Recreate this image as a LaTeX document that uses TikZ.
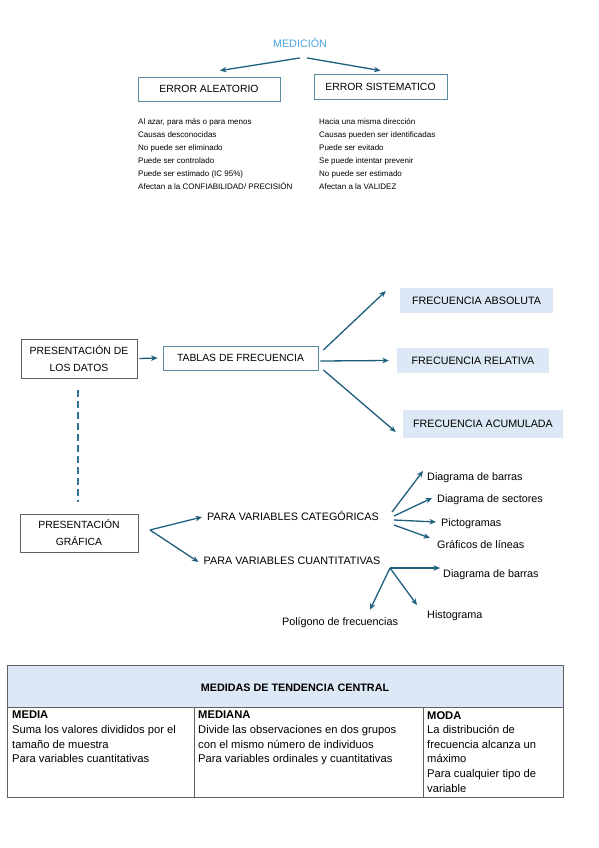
\documentclass[tikz,border=0pt]{standalone}
\usepackage{fontspec}
\setmainfont{Liberation Sans}
\usetikzlibrary{arrows.meta}

\definecolor{medblue}{HTML}{4AA3DF}
\definecolor{arrowblue}{HTML}{1D5E7E}
\definecolor{boxteal}{HTML}{5B8BA3}
\definecolor{dashblue}{HTML}{2F7299}
\definecolor{fillblue}{HTML}{DCE8F5}
\definecolor{boxgray}{HTML}{606060}

\tikzset{
  arr/.style={-{Stealth[length=6.5pt,width=5.5pt]}, arrowblue, line width=1.3pt},
  tealbox/.style={draw=boxteal, line width=0.8pt, inner sep=0pt, font=\fontsize{10.4}{12}\selectfont},
  graybox/.style={draw=boxgray, line width=0.8pt, inner sep=0pt, align=center, font=\fontsize{10.4}{17}\selectfont},
  frecbox/.style={fill=fillblue, inner sep=0pt, font=\fontsize{10.7}{12}\selectfont},
  lbl/.style={inner sep=0pt, font=\fontsize{10.8}{12}\selectfont},
  lista/.style={inner sep=0pt, anchor=north west, align=left, font=\fontsize{8}{12.9}\selectfont},
  celda/.style={inner sep=0pt, anchor=north west, align=left, font=\fontsize{11.2}{14.6}\selectfont}
}

\begin{document}
\begin{tikzpicture}[x=1pt, y=-1pt]
    \useasboundingbox (0,0) rectangle (599,848);

    % medicion
    \node[lbl, text=medblue] (medicion) at (300,43) {MEDICIÓN};
    \node[tealbox, minimum width=142pt, minimum height=24pt] (aleatorio) at (209,89) {ERROR ALEATORIO};
    \node[tealbox, minimum width=133pt, minimum height=25pt] (sistematico) at (380.5,86.5) {ERROR SISTEMATICO};

    \draw[arr] ([xshift=0pt,yshift=-10pt]medicion.south) -- ([xshift=11pt,yshift=6pt]aleatorio.north);
    \draw[arr] ([xshift=7pt,yshift=-10pt]medicion.south) -- ([xshift=0pt,yshift=3pt]sistematico.north);

    \node[lista] (listaleat) at (138,118.5) {Al azar, para más o para menos\\
        Causas desconocidas\\
        No puede ser eliminado\\
        Puede ser controlado\\
        Puede ser estimado (IC 95\%)\\
        Afectan a la CONFIABILIDAD/ PRECISIÓN};
    \node[lista] (listasist) at (319,118.5) {Hacia una misma dirección\\
        Causas pueden ser identificadas\\
        Puede ser evitado\\
        Se puede intentar prevenir\\
        No puede ser estimado\\
        Afectan a la VALIDEZ};

    % tablas de frecuencia
    \node[graybox, minimum width=116pt, minimum height=39pt] (datos) at (79,358.5) {PRESENTACIÓN DE\\LOS DATOS};
    \node[tealbox, minimum width=155pt, minimum height=24pt] (tablas) at (240.5,358) {TABLAS DE FRECUENCIA};
    \node[frecbox, minimum width=153pt, minimum height=25pt] (absoluta) at (476.5,300.5) {FRECUENCIA ABSOLUTA};
    \node[frecbox, minimum width=152pt, minimum height=25pt] (relativa) at (473,360.5) {FRECUENCIA RELATIVA};
    \node[frecbox, minimum width=160pt, minimum height=28pt] (acumulada) at (483,424) {FRECUENCIA ACUMULADA};

    \draw[arr] ([xshift=2pt]datos.east) -- ([xshift=-5pt]tablas.west);
    \draw[arr] ([xshift=5pt,yshift=8pt]tablas.east) -- ([xshift=-14pt,yshift=9.5pt]absoluta.west);
    \draw[arr] ([xshift=2pt,yshift=-3pt]tablas.east) -- ([xshift=-8pt]relativa.west);
    \draw[arr] ([xshift=5pt,yshift=-12pt]tablas.east) -- ([xshift=-7pt,yshift=-8pt]acumulada.west);

    % presentacion grafica
    \node[graybox, minimum width=118pt, minimum height=38pt] (grafica) at (79,533) {PRESENTACIÓN\\GRÁFICA};
    \draw[dashblue, line width=2pt, dash pattern=on 7pt off 4pt] ([xshift=-1pt,yshift=-12pt]datos.south) -- ([xshift=-1pt,yshift=12pt]grafica.north);

    \coordinate (hubgraf) at (150,530);
    \node[lbl] (categ) at (293,516) {PARA VARIABLES CATEGÓRICAS};
    \node[lbl] (cuant) at (292,561) {PARA VARIABLES CUANTITATIVAS};
    \draw[arr] (hubgraf) -- ([xshift=-5pt,yshift=-1pt]categ.west);
    \draw[arr] (hubgraf) -- ([xshift=-5pt,yshift=-1pt]cuant.west);

    \node[lbl, anchor=west] (barrascat) at (427,477.5) {Diagrama de barras};
    \node[lbl, anchor=west] (sectores) at (437,499.5) {Diagrama de sectores};
    \node[lbl, anchor=west] (picto) at (441,523.5) {Pictogramas};
    \node[lbl, anchor=west] (lineas) at (437,544.5) {Gráficos de líneas};
    \draw[arr] (392,512) -- ([xshift=-4pt,yshift=6.5pt]barrascat.west);
    \draw[arr] (394,516) -- ([xshift=-5pt,yshift=1.5pt]sectores.west);
    \draw[arr] (394,520) -- ([xshift=-5pt,yshift=1.5pt]picto.west);
    \draw[arr] (394,525) -- ([xshift=-7pt,yshift=6.5pt]lineas.west);

    \coordinate (hubcuant) at (390,568);
    \node[lbl, anchor=west] (barrascuant) at (443,574.5) {Diagrama de barras};
    \node[lbl] (poligono) at (340,623) {Polígono de frecuencias};
    \node[lbl, anchor=west] (histograma) at (427,615.5) {Histograma};
    \draw[arr] (hubcuant) -- ([xshift=-3pt,yshift=6.5pt]barrascuant.west);
    \draw[arr] (hubcuant) -- ([xshift=30pt,yshift=8pt]poligono.north);
    \draw[arr] (hubcuant) -- ([xshift=-10pt,yshift=10.5pt]histograma.west);

    % medidas de tendencia central
    \fill[fillblue] (7,665) rectangle (563,707);
    \draw[boxgray, line width=0.8pt] (7,665) rectangle (563,797);
    \draw[boxgray, line width=0.8pt] (7,707) -- (563,707);
    \draw[boxgray, line width=0.8pt] (194,707) -- (194,797);
    \draw[boxgray, line width=0.8pt] (423,707) -- (423,797);
    \node[lbl, font=\bfseries\fontsize{10.8}{12}\selectfont] (titulo) at (295,688) {MEDIDAS DE TENDENCIA CENTRAL};

    \node[celda] (media) at (12,711) {\textbf{MEDIA}\\
        Suma los valores divididos por el\\
        tamaño de muestra\\
        Para variables cuantitativas};
    \node[celda] (mediana) at (198,711) {\textbf{MEDIANA}\\
        Divide las observaciones en dos grupos\\
        con el mismo número de individuos\\
        Para variables ordinales y cuantitativas};
    \node[celda] (moda) at (427,711) {\textbf{MODA}\\
        La distribución de\\
        frecuencia alcanza un\\
        máximo\\
        Para cualquier tipo de\\
        variable};
\end{tikzpicture}
\end{document}
